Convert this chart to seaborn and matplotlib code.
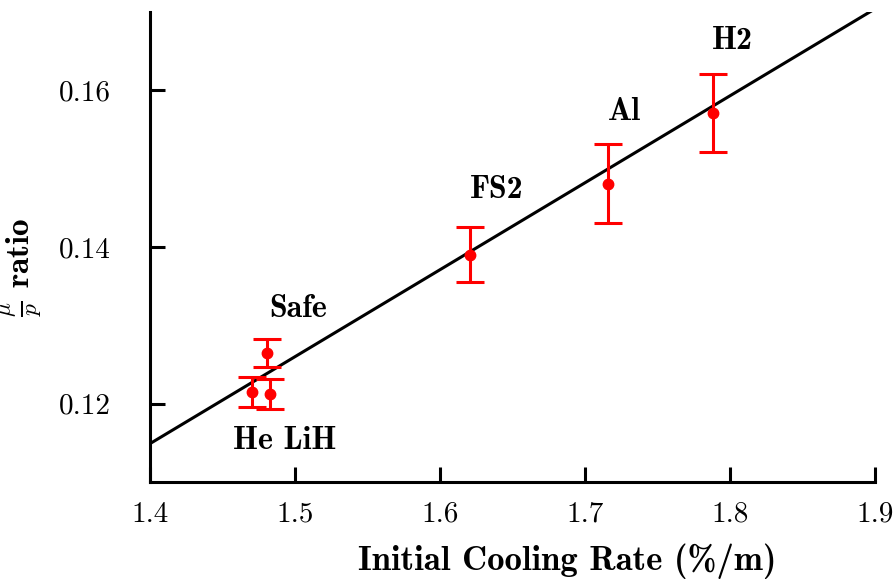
import numpy as np
import matplotlib
matplotlib.use('Agg')
import matplotlib.pyplot as plt
import pandas as pd
import seaborn as sns

# measured points
materials = ['He', 'LiH', 'Safe', 'FS2', 'Al', 'H2']
cooling_rate = [1.470, 1.483, 1.481, 1.621, 1.716, 1.788]
ratio = [0.1215, 0.1212, 0.1265, 0.1390, 0.1481, 0.1571]
ratio_err = [0.0019, 0.0019, 0.0018, 0.0035, 0.0050, 0.0050]

# linear fit
fit_x = [1.4, 1.9]
fit_y = [0.1149, 0.1704]

# annotation texts and where they sit
label_text = ['He LiH', 'Safe', 'FS2', 'Al', 'H2']
label_x = [1.493, 1.502, 1.639, 1.727, 1.802]
label_y = [0.1153, 0.1322, 0.1473, 0.1573, 0.1663]

df = pd.DataFrame({'material': materials, 'rate': cooling_rate,
                   'ratio': ratio, 'err': ratio_err})
fit = pd.DataFrame({'x': fit_x, 'y': fit_y})

sns.set_style('ticks')
plt.rcParams['font.family'] = ['cmr10', 'DejaVu Serif']
plt.rcParams['mathtext.fontset'] = 'cm'
plt.rcParams['axes.formatter.use_mathtext'] = True
for k in ['text.color', 'axes.labelcolor', 'xtick.color', 'ytick.color',
          'axes.edgecolor']:
    plt.rcParams[k] = 'black'

fig = plt.figure(figsize=(8.94, 5.82), dpi=100)
ax = fig.add_axes([0.1678, 0.1718, 0.8109, 0.8076])

sns.lineplot(data=fit, x='x', y='y', ax=ax, color='black', lw=2.2)
ax.errorbar(df['rate'], df['ratio'], yerr=df['err'], fmt='o', color='red',
            ms=7.5, elinewidth=2.2, capsize=10, capthick=2.2, zorder=3)

for t, x, y in zip(label_text, label_x, label_y):
    ax.text(x, y, t, ha='center', va='center', fontsize=23,
            fontfamily='cmb10')

ax.set_xlim(1.4, 1.9)
ax.set_ylim(0.11, 0.17)
ax.set_xticks([1.4, 1.5, 1.6, 1.7, 1.8, 1.9])
ax.set_yticks([0.12, 0.14, 0.16])
ax.set_xticklabels(['1.4', '1.5', '1.6', '1.7', '1.8', '1.9'])
ax.set_yticklabels(['0.12', '0.14', '0.16'])

ax.set_xlabel('Initial Cooling Rate (%/m)', fontsize=25, fontfamily='cmb10')
ax.set_ylabel(r'$\frac{\mu}{p}$ ratio', fontsize=24, fontfamily='cmb10')
ax.xaxis.set_label_coords(0.575, -0.13)
ax.yaxis.set_label_coords(-0.148, 0.458)

sns.despine(ax=ax)
for s in ['left', 'bottom']:
    ax.spines[s].set_linewidth(2.2)
ax.tick_params(direction='in', length=11, width=2.2, labelsize=21)
ax.tick_params(axis='x', pad=14)
ax.tick_params(axis='y', pad=28)

fig.savefig('out.png', dpi=100)
